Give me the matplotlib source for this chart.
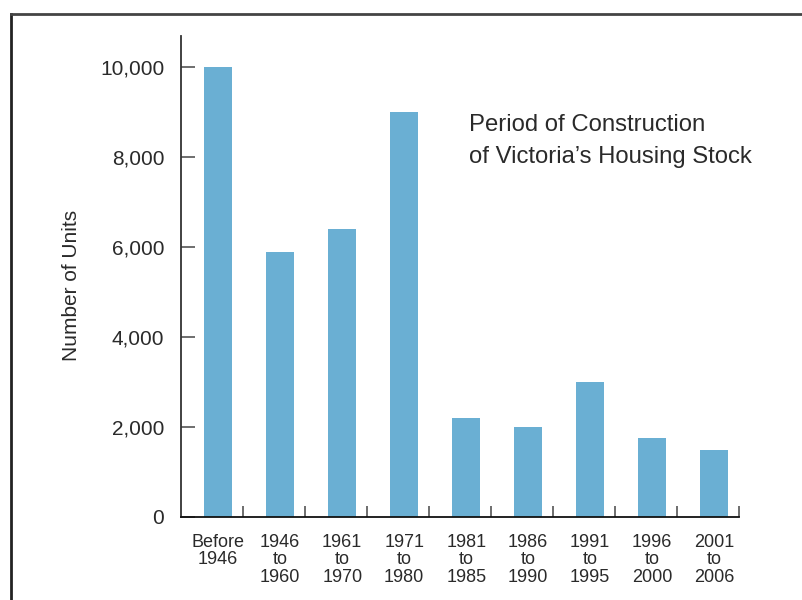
import matplotlib.pyplot as plt
from matplotlib.lines import Line2D

plt.rcParams['font.family'] = ['Liberation Sans', 'DejaVu Sans']

periods = ['Before\n1946', '1946\nto\n1960', '1961\nto\n1970', '1971\nto\n1980',
	'1981\nto\n1985', '1986\nto\n1990', '1991\nto\n1995', '1996\nto\n2000', '2001\nto\n2006']
units = [10000, 5900, 6400, 9000, 2200, 2000, 3000, 1750, 1500]
yticks = [0, 2000, 4000, 6000, 8000, 10000]
ylabels = ['0', '2,000', '4,000', '6,000', '8,000', '10,000']

text_color = '#2a2a2a'

fig = plt.figure(figsize=(8.03, 6), dpi=100)
ax = fig.add_axes([181 / 803, 83 / 600, 558 / 803, 481 / 600])

xs = list(range(len(units)))
ax.bar(xs, units, width=0.45, color='#6aafd3')

ax.set_xlim(-0.6, 8.4)
ax.set_ylim(0, 10690)

ax.spines['top'].set_visible(False)
ax.spines['right'].set_visible(False)
ax.spines['left'].set_color('#333333')
ax.spines['left'].set_linewidth(1.3)
ax.spines['bottom'].set_color('#111111')
ax.spines['bottom'].set_linewidth(1.3)

ax.set_yticks(yticks)
ax.set_yticklabels(ylabels, fontsize=15, color=text_color)
ax.tick_params(axis='y', direction='in', length=10, width=1.2, color='#555555', pad=12)

ax.set_xticks(xs)
ax.set_xticklabels(periods, fontsize=13, color=text_color, linespacing=1.05)
ax.tick_params(axis='x', which='major', length=0, pad=12)
ax.set_xticks([i + 0.4 for i in xs], minor=True)
ax.tick_params(axis='x', which='minor', direction='in', length=8, width=1.2, color='#555555')

ax.set_ylabel('Number of Units', fontsize=15, color=text_color)
ax.yaxis.set_label_coords(-0.18, 0.482)

fig.text(469 / 803, 1 - 131 / 600, 'Period of Construction',
	fontsize=17.2, color=text_color, ha='left', va='baseline')
fig.text(469 / 803, 1 - 163 / 600, 'of Victoria\u2019s Housing Stock',
	fontsize=17.2, color=text_color, ha='left', va='baseline')

# frame around the figure
fig.add_artist(Line2D([11.5 / 803, 11.5 / 803], [0, 1 - 13.5 / 600], color='#222222', lw=2, transform=fig.transFigure))
fig.add_artist(Line2D([11.5 / 803, 1], [1 - 13.5 / 600, 1 - 13.5 / 600], color='#444444', lw=2, transform=fig.transFigure))

fig.savefig('out.png', dpi=100)
